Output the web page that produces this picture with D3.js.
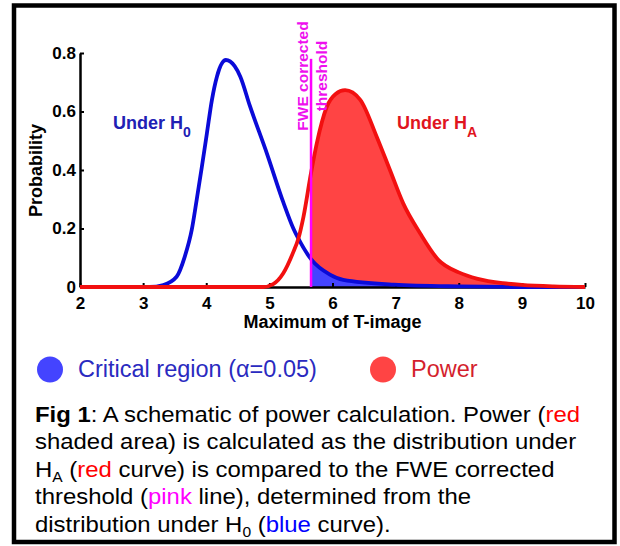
<!DOCTYPE html>
<html>
<head>
<meta charset="utf-8">
<script src="https://cdn.jsdelivr.net/npm/d3@7"></script>
<style>
  body { margin: 0; background: #fff; }
  svg { display: block; font-family: "Liberation Sans", Arial, sans-serif; }
</style>
</head>
<body>
<svg id="fig" width="620" height="546"></svg>
<script>
`use strict`;

// values
const xTicks = [2, 3, 4, 5, 6, 7, 8, 9, 10];
const yTicks = [0, 0.2, 0.4, 0.6, 0.8];
const yTickLabels = [`0`, `0.2`, `0.4`, `0.6`, `0.8`];

const threshold = 5.66;
const thresholdTop = 0.78;

// H0 distribution (blue)
const h0X = [2, 3.1, 3.32, 3.53, 3.66, 3.77, 3.85, 3.93, 4.01, 4.09, 4.17, 4.31, 4.45, 4.54, 4.69, 4.96, 5.22, 5.38, 5.46, 5.66, 5.96, 6.17, 6.97, 8, 9, 10];
const h0Y = [0, 0, 0.007, 0.035, 0.104, 0.195, 0.3, 0.41, 0.525, 0.64, 0.72, 0.776, 0.755, 0.719, 0.62, 0.457, 0.29, 0.2, 0.165, 0.095, 0.042, 0.024, 0.008, 0.002, 0, 0];

// HA distribution (red)
const haX = [2, 4.9, 5.06, 5.22, 5.38, 5.46, 5.54, 5.66, 5.75, 5.91, 6.05, 6.2, 6.44, 6.7, 6.91, 7.12, 7.39, 7.68, 8, 8.3, 8.7, 9, 9.5, 10];
const haY = [0, 0, 0.01, 0.047, 0.12, 0.166, 0.24, 0.39, 0.49, 0.616, 0.66, 0.673, 0.64, 0.514, 0.4, 0.286, 0.183, 0.092, 0.05, 0.028, 0.013, 0.007, 0.002, 0];

const legendLabels = [`Critical region (\u03b1=0.05)`, `Power`];
const legendColors = [`#4444ff`, `#ff4444`];
const legendText = [`#2a2ac0`, `#d41f2e`];

const caption = [
  [[`Fig 1`, `b`], [`: A schematic of power calculation. Power (`], [`red`, `#ff0000`]],
  [[`shaded area) is calculated as the distribution under`]],
  [[`H`], [`A`, `sub`], [` (`], [`red`, `#ff0000`], [` curve) is compared to the FWE corrected`]],
  [[`threshold (`], [`pink`, `#ff00ff`], [` line), determined from the`]],
  [[`distribution under H`], [`0`, `sub`], [` (`], [`blue`, `#0000ff`], [` curve).`]]
];

(function () {

  const svg = d3.select(`#fig`);

  let x = d3.scaleLinear().domain([2, 10]).range([80, 585]);
  let y = d3.scaleLinear().domain([0, 0.8]).range([287, 53]);

  let h0 = h0X.map((v, i) => [v, h0Y[i]]);
  let ha = haX.map((v, i) => [v, haY[i]]);

  // outer frame
  svg.append(`rect`)
    .attr(`x`, 14).attr(`y`, 5.5)
    .attr(`width`, 600.5).attr(`height`, 536.5)
    .attr(`fill`, `#fff`)
    .attr(`stroke`, `#000`)
    .style(`stroke-width`, 4.5);

  let plot = svg.append(`g`).attr(`class`, `plot`);

  let area = d3.area()
    .x(d => x(d[0]))
    .y0(y(0))
    .y1(d => y(d[1]))
    .curve(d3.curveMonotoneX);

  let line = d3.line()
    .x(d => x(d[0]))
    .y(d => y(d[1]))
    .curve(d3.curveMonotoneX);

  // shaded regions past the threshold
  plot.append(`path`)
    .datum(ha.filter(d => d[0] >= threshold))
    .attr(`d`, area)
    .attr(`fill`, `#ff4444`);

  plot.append(`path`)
    .datum(h0.filter(d => d[0] >= threshold))
    .attr(`d`, area)
    .attr(`fill`, `#4444ff`);

  // axes
  let xAxis = d3.axisBottom(x)
    .tickValues(xTicks)
    .tickSize(-4)
    .tickSizeOuter(0)
    .tickPadding(10);

  let yAxis = d3.axisLeft(y)
    .tickValues(yTicks)
    .tickFormat((d, i) => yTickLabels[i])
    .tickSize(-4)
    .tickSizeOuter(0)
    .tickPadding(4);

  let gx = plot.append(`g`)
    .attr(`transform`, `translate(0,${y(0)})`)
    .call(xAxis);

  let gy = plot.append(`g`)
    .attr(`transform`, `translate(${x(2)},0)`)
    .call(yAxis);

  [gx, gy].forEach(g => {
    g.select(`.domain`).attr(`stroke`, `#000`).style(`stroke-width`, 2.5);
    g.selectAll(`.tick line`).attr(`stroke`, `#000`).style(`stroke-width`, 2);
    g.selectAll(`.tick text`)
      .attr(`fill`, `#000`)
      .style(`font-size`, `17px`)
      .style(`font-weight`, `bold`)
      .style(`font-family`, `"Liberation Sans", Arial, sans-serif`);
  });

  // curves
  plot.append(`path`)
    .datum(h0)
    .attr(`d`, line)
    .attr(`fill`, `none`)
    .attr(`stroke`, `#0a0ad8`)
    .style(`stroke-width`, 3.8)
    .style(`stroke-linejoin`, `round`);

  plot.append(`path`)
    .datum(ha)
    .attr(`d`, line)
    .attr(`fill`, `none`)
    .attr(`stroke`, `#f21010`)
    .style(`stroke-width`, 3.8)
    .style(`stroke-linejoin`, `round`);

  // FWE threshold
  plot.append(`line`)
    .attr(`x1`, x(threshold)).attr(`x2`, x(threshold))
    .attr(`y1`, y(0)).attr(`y2`, y(thresholdTop))
    .attr(`stroke`, `#ff00ff`)
    .style(`stroke-width`, 2.5);

  let fwe = plot.append(`g`)
    .attr(`fill`, `#ee10ee`)
    .style(`font-size`, `15.5px`)
    .style(`font-weight`, `bold`)
    .attr(`text-anchor`, `middle`);

  fwe.append(`text`)
    .attr(`transform`, `translate(${x(threshold) - 3},76) rotate(-90)`)
    .text(`FWE corrected`);

  fwe.append(`text`)
    .attr(`transform`, `translate(${x(threshold) + 15.5},76) rotate(-90)`)
    .text(`threshold`);

  // curve labels
  let label = (tx, col, sub) => {
    let t = plot.append(`text`)
      .attr(`x`, tx).attr(`y`, 129)
      .attr(`fill`, col)
      .style(`font-size`, `18px`)
      .style(`font-weight`, `bold`);
    t.append(`tspan`).text(`Under H`);
    t.append(`tspan`).attr(`dy`, 8).style(`font-size`, `14px`).text(sub);
  };

  label(113, `#2020b4`, `0`);
  label(397, `#e0141e`, `A`);

  // axis titles
  plot.append(`text`)
    .attr(`transform`, `translate(42,170.5) rotate(-90)`)
    .attr(`text-anchor`, `middle`)
    .style(`font-size`, `18px`)
    .style(`font-weight`, `bold`)
    .text(`Probability`);

  plot.append(`text`)
    .attr(`x`, (x(2) + x(10)) / 2).attr(`y`, 328)
    .attr(`text-anchor`, `middle`)
    .style(`font-size`, `18px`)
    .style(`font-weight`, `bold`)
    .text(`Maximum of T-image`);

  // legend
  let legendX = [50, 383];

  let leg = svg.append(`g`).attr(`class`, `legend`)
    .selectAll(`g`).data(legendLabels)
    .enter()
    .append(`g`)
    .attr(`transform`, (d, i) => `translate(${legendX[i]},369.5)`);

  leg.append(`circle`)
    .attr(`r`, 13)
    .attr(`fill`, (d, i) => legendColors[i]);

  leg.append(`text`)
    .attr(`x`, 28).attr(`y`, 7.5)
    .attr(`fill`, (d, i) => legendText[i])
    .style(`font-size`, `23.5px`)
    .text(d => d);

  // caption
  let cap = svg.append(`g`)
    .attr(`transform`, `translate(35,0) scale(1.113,1)`)
    .style(`font-size`, `21.5px`)
    .attr(`fill`, `#000`);

  let lineY = [421.7, 449.3, 476.7, 504.3, 532.3];

  caption.forEach((parts, i) => {
    let t = cap.append(`text`).attr(`x`, 0).attr(`y`, lineY[i]);
    let shift = 0;
    parts.forEach(p => {
      let s = t.append(`tspan`).text(p[0]);
      if (p[1] === `b`) s.style(`font-weight`, `bold`);
      else if (p[1] === `sub`) {
        s.attr(`dy`, 5).style(`font-size`, `14px`);
        shift = 5;
      }
      else {
        if (shift) { s.attr(`dy`, -shift); shift = 0; }
        if (p[1]) s.attr(`fill`, p[1]);
      }
    });
  });

})();
</script>
</body>
</html>
